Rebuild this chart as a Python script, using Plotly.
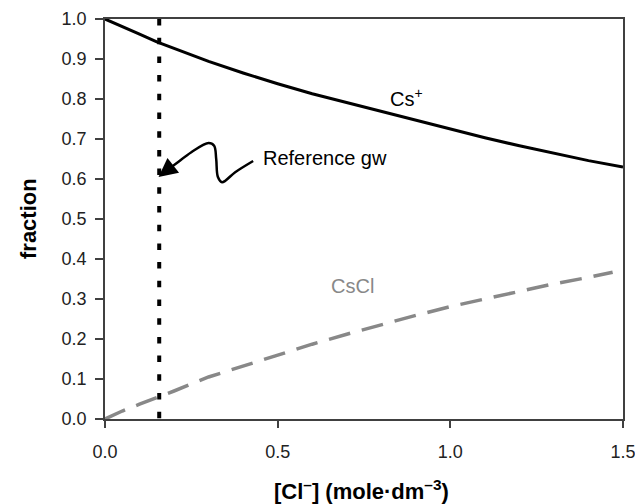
import plotly.graph_objects as go

# --- data ---
cl_conc = [0, 0.05, 0.1, 0.15, 0.2, 0.3, 0.4, 0.5, 0.6, 0.7, 0.8, 0.9, 1.0, 1.1, 1.2, 1.3, 1.4, 1.5]
cs_plus = [1.0, 0.98, 0.962, 0.943, 0.926, 0.894, 0.865, 0.838, 0.813, 0.791, 0.769, 0.746, 0.724, 0.703, 0.683, 0.664, 0.646, 0.630]

cscl_x = [0, 0.05, 0.1, 0.15, 0.2, 0.3, 0.4, 0.5, 0.6, 0.7, 0.8, 0.9, 1.0, 1.1, 1.2, 1.3, 1.4, 1.47]
cscl_y = [0.0, 0.02, 0.037, 0.053, 0.07, 0.105, 0.133, 0.16, 0.187, 0.212, 0.236, 0.259, 0.281, 0.300, 0.320, 0.338, 0.354, 0.367]

ref_gw_x = [0.157, 0.157]
ref_gw_y = [1.0, 0.0]

# squiggly pointer from the "Reference gw" label to the reference line
squiggle_x = [0.429, 0.377, 0.339, 0.327, 0.322, 0.316, 0.300, 0.250, 0.205, 0.180]
squiggle_y = [0.645, 0.617, 0.592, 0.605, 0.650, 0.683, 0.690, 0.667, 0.638, 0.622]
arrow_tip = (0.155, 0.605)

x_ticks = [0.0, 0.5, 1.0, 1.5]
y_ticks = [round(i * 0.1, 1) for i in range(11)]

font_family = "Liberation Sans, Arial, sans-serif"

fig = go.Figure()

fig.add_trace(go.Scatter(x=ref_gw_x, y=ref_gw_y, mode="lines",
                         line=dict(color="black", width=4, dash="6.5px,12.2px"),
                         hoverinfo="skip", showlegend=False))
fig.add_trace(go.Scatter(x=cl_conc, y=cs_plus, mode="lines",
                         line=dict(color="black", width=3),
                         showlegend=False))
fig.add_trace(go.Scatter(x=cscl_x, y=cscl_y, mode="lines",
                         line=dict(color="#888888", width=3.5, dash="22px,12px"),
                         showlegend=False))
fig.add_trace(go.Scatter(x=squiggle_x, y=squiggle_y, mode="lines",
                         line=dict(color="black", width=2.5, shape="spline"),
                         hoverinfo="skip", showlegend=False))

fig.add_annotation(x=arrow_tip[0], y=arrow_tip[1], ax=squiggle_x[-1], ay=squiggle_y[-1],
                   xref="x", yref="y", axref="x", ayref="y", text="",
                   showarrow=True, arrowhead=2, arrowsize=1.5, arrowwidth=2.5,
                   arrowcolor="black", standoff=0)

fig.add_annotation(x=0.452, y=0.6525, xref="x", yref="y", text="Reference gw",
                   showarrow=False, xanchor="left", yanchor="middle",
                   font=dict(family=font_family, size=20, color="black"))
fig.add_annotation(x=0.82, y=0.805, xref="x", yref="y", text="Cs<sup>+</sup>",
                   showarrow=False, xanchor="left", yanchor="middle",
                   font=dict(family=font_family, size=20, color="black"))
fig.add_annotation(x=0.718, y=0.333, xref="x", yref="y", text="CsCl",
                   showarrow=False, xanchor="center", yanchor="middle",
                   font=dict(family=font_family, size=20, color="#888888"))

# axis titles
fig.add_annotation(x=(361 - 105) / 518, y=-(490 - 419) / 400, xref="paper", yref="paper",
                   text="<b>[Cl<sup>\u2013</sup>] (mole\u00b7dm<sup>\u20133</sup>)</b>",
                   showarrow=False, xanchor="center", yanchor="middle",
                   font=dict(family=font_family, size=22, color="black"))
fig.add_annotation(x=-(105 - 28) / 518, y=(419 - 219) / 400, xref="paper", yref="paper",
                   text="<b>fraction</b>", textangle=-90,
                   showarrow=False, xanchor="center", yanchor="middle",
                   font=dict(family=font_family, size=22, color="black"))

axis_common = dict(showgrid=False, zeroline=False, showline=True, mirror=True,
                   linecolor="#404040", linewidth=1.5, ticks="outside",
                   tickcolor="#404040", tickwidth=1.5, automargin=False,
                   ticklabeloverflow="allow",
                   tickfont=dict(family=font_family, size=18, color="#222222"))

fig.update_xaxes(range=[0, 1.5], tickvals=x_ticks, ticktext=[f"{v:.1f}" for v in x_ticks],
                 ticklen=7, ticklabelstandoff=9, **axis_common)
fig.update_yaxes(range=[0, 1.0], tickvals=y_ticks, ticktext=[f"{v:.1f}" for v in y_ticks],
                 ticklen=8, ticklabelstandoff=5, **axis_common)

fig.update_layout(width=635, height=504,
                  margin=dict(l=105, r=12, t=19, b=85, autoexpand=False),
                  plot_bgcolor="white", paper_bgcolor="white",
                  showlegend=False)

fig.write_html("out.html")
